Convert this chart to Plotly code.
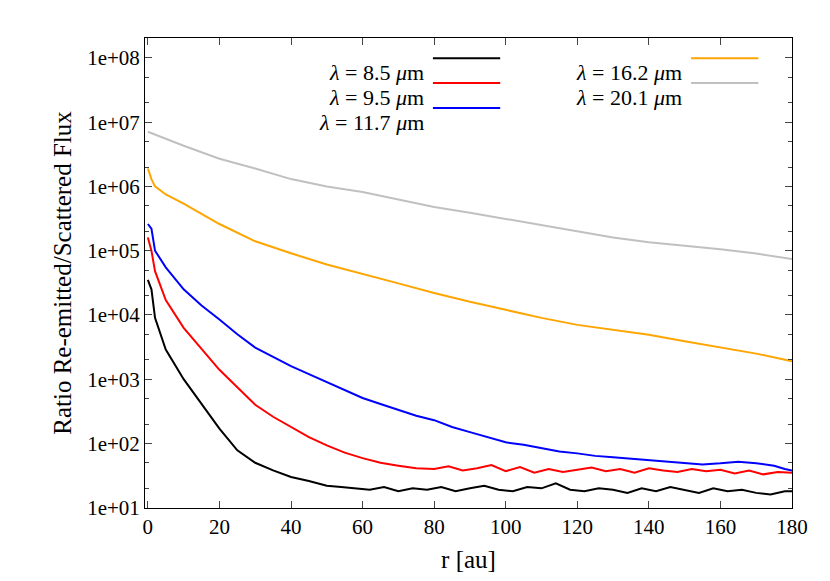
import plotly.graph_objects as go

# smooth sections
r_black = [0, 1, 2, 5, 10, 15, 20, 25, 30, 35, 40, 45]
f_black = [3.5e4, 2.5e4, 9e3, 2.9e3, 1e3, 420, 170, 78, 50, 38, 30, 26]
r_black += list(range(50, 179, 4)) + [180]
f_black += [22, 21, 20, 19, 21, 18, 20, 19, 21, 18, 20, 22, 19, 18, 21, 20, 24,
            19, 18, 20, 19, 17, 20, 18, 21, 19, 17, 20, 18, 19, 17, 16, 18, 18]

r_red = [0, 1, 2, 5, 10, 15, 20, 25, 30, 35, 40, 45, 50, 55, 60, 65, 70, 75]
f_red = [1.6e5, 1e5, 4.8e4, 1.7e4, 6.3e3, 3e3, 1.4e3, 750, 400, 260, 178, 125,
         93, 72, 59, 50, 45, 41]
r_red += list(range(80, 179, 4)) + [180]
f_red += [40, 44, 38, 41, 46, 37, 43, 35, 40, 36, 39, 42, 37, 40, 35, 41, 38, 36,
          40, 37, 39, 34, 38, 33, 36, 35]

r_blue = [0, 1, 2, 5, 10, 15, 20, 25, 30, 35, 40, 45, 50, 55, 60, 65, 70, 75,
          80, 85, 90, 95, 100, 105, 110, 115, 120, 125, 130, 135, 140, 145,
          150, 155, 160, 165, 170, 175, 178, 180]
f_blue = [2.6e5, 2.2e5, 1e5, 5.5e4, 2.5e4, 1.4e4, 8.5e3, 5e3, 3.1e3, 2.2e3,
          1.6e3, 1.2e3, 900, 680, 510, 410, 330, 270, 230, 180, 150, 125, 104,
          95, 84, 75, 70, 64, 61, 58, 55, 52, 50, 47, 49, 52, 49, 45, 40, 38]

r_orange = [0, 1, 2, 5, 10, 20, 30, 40, 50, 60, 70, 80, 90, 100, 110, 120,
            130, 140, 150, 160, 170, 180]
f_orange = [1.9e6, 1.3e6, 1e6, 7.5e5, 5.4e5, 2.6e5, 1.4e5, 9.1e4, 6.1e4, 4.3e4,
            3.1e4, 2.2e4, 1.6e4, 1.2e4, 9e3, 7e3, 5.8e3, 4.9e3, 3.9e3, 3.1e3,
            2.5e3, 1.9e3]

r_gray = [0, 10, 20, 30, 40, 50, 60, 70, 80, 90, 100, 110, 120, 130, 140, 150,
          160, 170, 180]
f_gray = [7.1e6, 4.3e6, 2.7e6, 1.9e6, 1.3e6, 1e6, 8.2e5, 6.2e5, 4.8e5, 3.9e5,
          3.1e5, 2.5e5, 2e5, 1.6e5, 1.35e5, 1.2e5, 1.05e5, 9e4, 7.4e4]

series = [
    ("λ = 8.5 μm", r_black, f_black, "black"),
    ("λ = 9.5 μm", r_red, f_red, "#ff0000"),
    ("λ = 11.7 μm", r_blue, f_blue, "#0000ff"),
    ("λ = 16.2 μm", r_orange, f_orange, "#ffa500"),
    ("λ = 20.1 μm", r_gray, f_gray, "#c0c0c0"),
]

fig = go.Figure()
for name, r, f, c in series:
    fig.add_trace(go.Scatter(x=r, y=f, mode="lines", name=name,
                             line=dict(color=c, width=2), showlegend=False))

# legend drawn by hand: two columns, label then line sample
slots = [(0.434, 0.957), (0.434, 0.904), (0.434, 0.851), (0.833, 0.957), (0.833, 0.904)]
for (name, r, f, c), (xt, yt) in zip(series, slots):
    lam, val = name.split(" = ")
    fig.add_annotation(x=xt, y=yt, xref="paper", yref="paper", xanchor="right",
                       showarrow=False, text="<i>λ</i> = " + val.replace("μ", "<i>μ</i>"),
                       font=dict(size=22))
    fig.add_shape(type="line", xref="paper", yref="paper", x0=xt + 0.011,
                  x1=xt + 0.115, y0=yt, y1=yt, line=dict(color=c, width=2))

ticks = [10 ** k for k in range(1, 9)]
fig.update_layout(
    width=830, height=581,
    margin=dict(l=137, r=46, t=30, b=81),
    plot_bgcolor="white", paper_bgcolor="white",
    font=dict(family="Liberation Serif", size=21, color="black"),
    xaxis=dict(range=[-0.8, 180], tickvals=list(range(0, 181, 20)),
               title=dict(text="r [au]", standoff=12), automargin=False,
               showline=True, linecolor="black", mirror="ticks",
               ticks="inside", ticklen=7, showgrid=False, zeroline=False),
    yaxis=dict(type="log", range=[0.995, 8.31], tickvals=ticks,
               ticktext=["1e+%02d" % k for k in range(1, 9)],
               title=dict(text="Ratio Re-emitted/Scattered Flux", standoff=8),
               automargin=False,
               showline=True, linecolor="black", mirror="ticks",
               ticks="inside", ticklen=7, showgrid=False, zeroline=False,
               minor=dict(ticks="inside", ticklen=4, tickvals=[v * m for v in ticks[:-1] for m in (2, 5)] + [2e8])),
)

fig.write_html("out.html")
